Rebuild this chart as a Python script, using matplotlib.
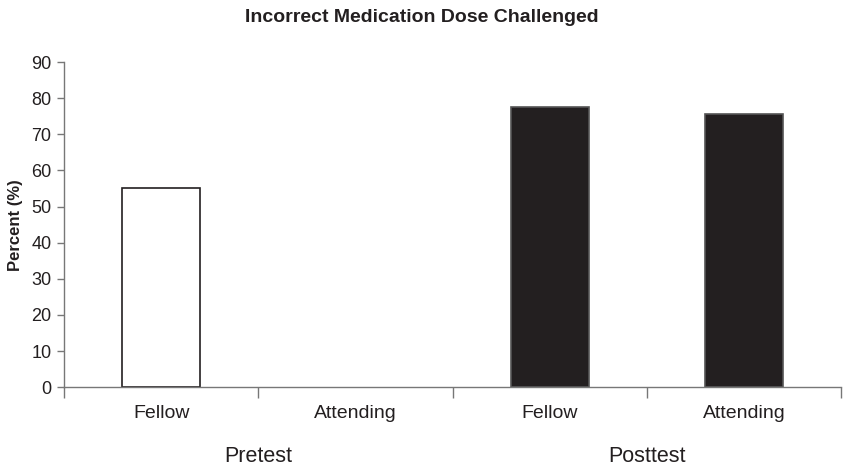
import numpy as np
import matplotlib.pyplot as plt
from matplotlib import transforms

plt.rcParams['font.family'] = ['Liberation Sans', 'DejaVu Sans']

# data
groups = ['Pretest', 'Posttest']
roles = ['Fellow', 'Attending', 'Fellow', 'Attending']
values = [55.2, 0, 77.7, 75.7]
colors = ['white', 'white', '#231f20', '#231f20']

fig = plt.figure(figsize=(8.43, 4.67), dpi=100)
ax = fig.add_axes([0.076, 0.171, 0.922, 0.696])

x = np.arange(len(roles))
for xi, v, c in zip(x, values, colors):
    if v > 0:
        ax.bar(xi, v, width=0.4, color=c, edgecolor='#231f20' if c == 'white' else '#555555', linewidth=1.2)

ax.set_xlim(-0.5, len(roles) - 0.5)
ax.set_ylim(0, 90)
ax.set_yticks(range(0, 91, 10))
ax.set_xticks(np.arange(-0.5, len(roles), 1))
ax.set_xticklabels([])
ax.tick_params(axis='x', length=8, color='#777777', width=1)
ax.tick_params(axis='y', length=5, color='#777777', width=1, labelsize=13, labelcolor='#231f20', pad=4)

for s in ['top', 'right']:
    ax.spines[s].set_visible(False)
for s in ['left', 'bottom']:
    ax.spines[s].set_color('#777777')
    ax.spines[s].set_linewidth(1)

trans = transforms.blended_transform_factory(ax.transData, ax.transAxes)
for xi, r in zip(x, roles):
    ax.text(xi, -0.055, r, transform=trans, ha='center', va='top', fontsize=14, color='#231f20')
for gi, g in enumerate(groups):
    ax.text(gi * 2 + 0.5, -0.182, g, transform=trans, ha='center', va='top', fontsize=15.5, color='#231f20')

ax.set_ylabel('Percent (%)', fontsize=12, fontweight='bold', color='#231f20', labelpad=6)
fig.text(0.5, 0.98, 'Incorrect Medication Dose Challenged', ha='center', va='top',
         fontsize=14, fontweight='bold', color='#231f20')

fig.savefig('out.png', dpi=100)
